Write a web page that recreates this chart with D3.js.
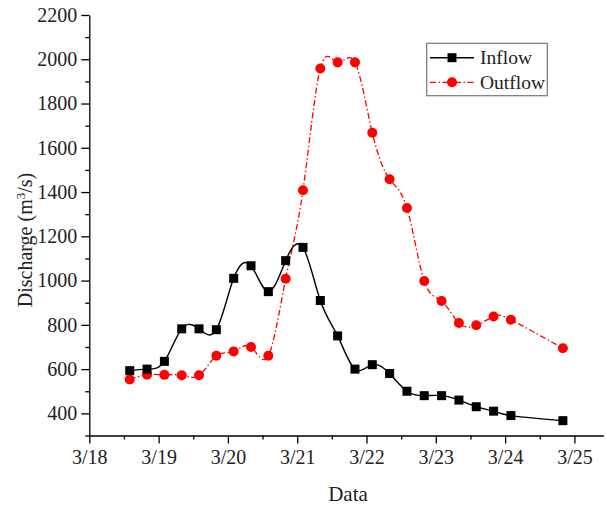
<!DOCTYPE html>
<html><head><meta charset="utf-8">
<script src="https://cdn.jsdelivr.net/npm/d3@7"></script>
<style>body{margin:0;background:#fff}</style>
</head><body>
<svg id="c" width="606" height="506"></svg>
<script>
const times = ["3/18 14:00","3/18 20:00","3/19 02:00","3/19 08:00","3/19 14:00","3/19 20:00",
  "3/20 02:00","3/20 08:00","3/20 14:00","3/20 20:00","3/21 02:00","3/21 08:00","3/21 14:00","3/21 20:00",
  "3/22 02:00","3/22 08:00","3/22 14:00","3/22 20:00","3/23 02:00","3/23 08:00","3/23 14:00","3/23 20:00",
  "3/24 02:00","3/24 20:00"];
const inflow = [593,600,635,782,782,778,1010,1067,950,1090,1150,910,750,600,620,580,500,480,480,460,430,410,390,367];
const outflow = [553,575,574,572,572,660,680,700,660,1008,1408,1958,1986,1986,1668,1458,1328,998,908,808,798,838,823,694];
const yTicks = [400,600,800,1000,1200,1400,1600,1800,2000,2200];
const yMinor = [300,500,700,900,1100,1300,1500,1700,1900,2100];
const xTickLabels = ["3/18","3/19","3/20","3/21","3/22","3/23","3/24","3/25"];
const xMinorLabels = ["3/18 12:00","3/19 12:00","3/20 12:00","3/21 12:00","3/22 12:00","3/23 12:00","3/24 12:00"];
const seriesNames = ["Inflow","Outflow"];

const parse = d3.timeParse("%m/%d %H:%M");
const parseDay = d3.timeParse("%m/%d");
const font = "'Liberation Serif','Times New Roman',serif";
const svg = d3.select("#c");

const x = d3.scaleTime().domain([parse("3/18 00:00"), parse("3/25 10:00")]).range([89.3, 603.3]);
const y = d3.scaleLinear().domain([300, 2200]).range([435.5, 15]);

// axes
svg.append("g").attr("transform", "translate(0,435.5)")
  .call(d3.axisBottom(x).tickValues(xTickLabels.map(parseDay)).tickFormat(d3.timeFormat("%-m/%-d"))
    .tickSize(8).tickSizeOuter(0).tickPadding(6));
svg.append("g").attr("transform", "translate(0,435.5)")
  .call(d3.axisBottom(x).tickValues(xMinorLabels.map(parse)).tickFormat("").tickSize(4).tickSizeOuter(0))
  .select(".domain").remove();
svg.append("g").attr("transform", "translate(89.3,0)")
  .call(d3.axisLeft(y).tickValues(yTicks).tickFormat(d3.format("d")).tickSize(8).tickSizeOuter(0).tickPadding(4));
svg.append("g").attr("transform", "translate(89.3,0)")
  .call(d3.axisLeft(y).tickValues(yMinor).tickFormat("").tickSize(4).tickSizeOuter(0))
  .select(".domain").remove();

svg.selectAll(".domain, .tick line").attr("stroke", "#000").attr("stroke-width", 1.3);
svg.selectAll(".tick text").attr("font-family", font).attr("font-size", 20).attr("fill", "#222");

// titles
svg.append("text").attr("x", 348).attr("y", 501).attr("text-anchor", "middle")
  .attr("font-family", font).attr("font-size", 21).attr("fill", "#222").text("Data");
const yt = svg.append("text").attr("transform", "translate(32,240) rotate(-90)").attr("text-anchor", "middle")
  .attr("font-family", font).attr("font-size", 20).attr("fill", "#222");
yt.append("tspan").text("Discharge (m");
yt.append("tspan").attr("baseline-shift", "super").attr("font-size", 13).text("3");
yt.append("tspan").text("/s)");

// lines
const pts = vals => vals.map((v, i) => [x(parse(times[i])), y(v)]);
const line = d3.line().curve(d3.curveNatural);

svg.append("path").attr("d", line(pts(outflow))).attr("fill", "none")
  .attr("stroke", "#ff0000").attr("stroke-width", 1.3).attr("stroke-dasharray", "6,2.5,1.5,2.5");
svg.append("path").attr("d", line(pts(inflow))).attr("fill", "none")
  .attr("stroke", "#000").attr("stroke-width", 1.4);

const sq = 9, r = 5;
svg.append("g").selectAll("circle").data(pts(outflow)).join("circle")
  .attr("cx", d => d[0]).attr("cy", d => d[1]).attr("r", r).attr("fill", "#ff0000");
svg.append("g").selectAll("rect").data(pts(inflow)).join("rect")
  .attr("x", d => d[0] - sq / 2).attr("y", d => d[1] - sq / 2).attr("width", sq).attr("height", sq).attr("fill", "#000");

// legend
const lg = svg.append("g");
lg.append("rect").attr("x", 426.7).attr("y", 43.3).attr("width", 120.6).attr("height", 52.4)
  .attr("fill", "#fff").attr("stroke", "#777").attr("stroke-width", 1.2);
const rows = [57.7, 82.3];
lg.append("line").attr("x1", 430).attr("x2", 474).attr("y1", rows[0]).attr("y2", rows[0]).attr("stroke", "#000").attr("stroke-width", 1.4);
lg.append("rect").attr("x", 452 - sq / 2).attr("y", rows[0] - sq / 2).attr("width", sq).attr("height", sq).attr("fill", "#000");
lg.append("line").attr("x1", 430).attr("x2", 474).attr("y1", rows[1]).attr("y2", rows[1]).attr("stroke", "#ff0000")
  .attr("stroke-width", 1.3).attr("stroke-dasharray", "6,2.5,1.5,2.5");
lg.append("circle").attr("cx", 452).attr("cy", rows[1]).attr("r", r).attr("fill", "#ff0000");
seriesNames.forEach((n, i) => {
  lg.append("text").attr("x", 480).attr("y", rows[i]).attr("dy", "0.33em")
    .attr("font-family", font).attr("font-size", 19.5).attr("fill", "#222").text(n);
});
</script>
</body></html>
